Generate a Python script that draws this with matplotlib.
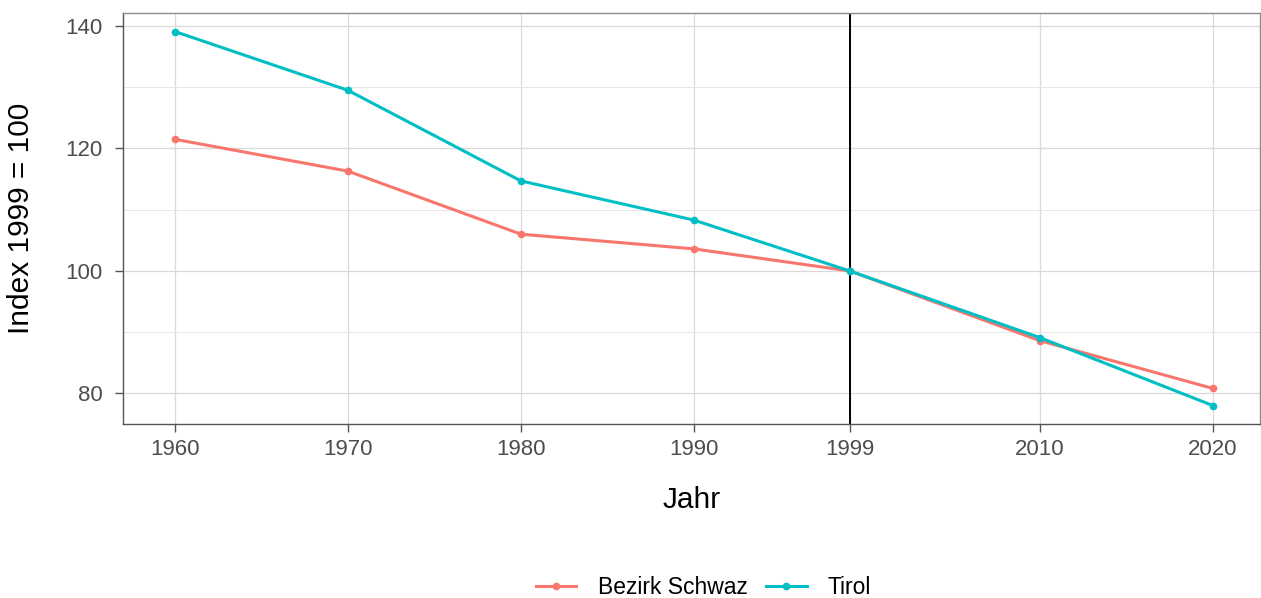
import matplotlib
matplotlib.use("Agg")
import matplotlib.pyplot as plt

plt.rcParams['font.family'] = ['Liberation Sans', 'DejaVu Sans']

years = [1960, 1970, 1980, 1990, 1999, 2010, 2020]
schwaz = [121.5, 116.3, 106.0, 103.6, 100.0, 88.6, 80.8]
tirol = [139.1, 129.5, 114.7, 108.3, 100.0, 89.1, 78.0]
series_names = ["Bezirk Schwaz", "Tirol"]
colors = ["#F8766D", "#00BFC4"]

fig = plt.figure(figsize=(12.61, 5.98), dpi=100)
ax = fig.add_axes([0.0975, 0.291, 0.9015, 0.687])

for vals, name, c in zip([schwaz, tirol], series_names, colors):
  ax.plot(years, vals, color=c, lw=2.2, marker="o", markersize=4.5, label=name)

ax.axvline(1999, color="black", lw=1.4, zorder=1)

ax.set_xlim(1957, 2022.7)
ax.set_ylim(75.0, 142.1)
ax.set_xticks(years)
ax.set_yticks([80, 100, 120, 140])
ax.set_yticks([90, 110, 130], minor=True)
ax.grid(True, which="major", color="#D9D9D9", lw=0.9)
ax.grid(True, which="minor", axis="y", color="#E6E6E6", lw=0.7)
ax.set_axisbelow(True)
for s in ax.spines.values():
  s.set_color("#8C8C8C")
  s.set_linewidth(1.0)
ax.spines["bottom"].set_color("#555555")
ax.spines["left"].set_color("#555555")
ax.tick_params(axis="both", which="major", colors="#555555", labelcolor="#4D4D4D", labelsize=16, length=5.5, width=1)
ax.tick_params(axis="x", pad=5)
ax.tick_params(axis="y", pad=9)
ax.tick_params(axis="y", which="minor", length=0)

ax.set_xlabel("Jahr", fontsize=21.5, labelpad=19)
ax.set_ylabel("Index 1999 = 100", fontsize=21.5)
ax.yaxis.set_label_coords(-0.0775, 0.5)

fig.legend(loc="center", bbox_to_anchor=(0.558, 0.018), ncol=2, frameon=False, fontsize=16.5,
           handlelength=1.75, columnspacing=0.83, handletextpad=0.92)

fig.savefig("out.png", dpi=100)
